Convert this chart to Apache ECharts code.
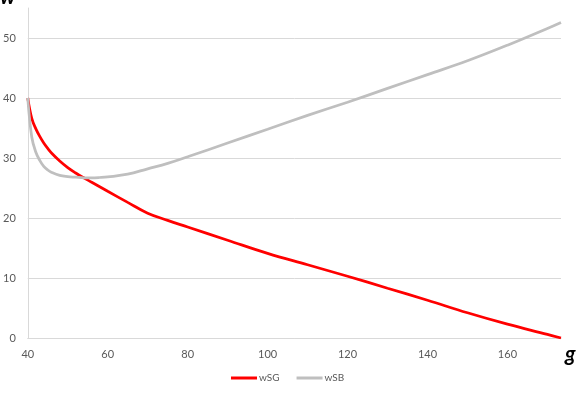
<!DOCTYPE html>
<html>
<head>
<meta charset="utf-8">
<script src="https://cdn.jsdelivr.net/npm/echarts@6/dist/echarts.min.js"></script>
<style>html,body{margin:0;padding:0;background:#fff}#c{width:585px;height:393px}</style>
</head>
<body>
<div id="c"></div>
<script>
var xValues = [40, 41, 42, 43, 44, 45, 46, 48, 50, 52, 54, 56, 58, 60, 65, 70, 75, 80, 90, 100, 110, 120, 130, 140, 150, 160, 170, 173.4];
var wSG = [40, 36.6, 34.9, 33.6, 32.5, 31.6, 30.8, 29.5, 28.4, 27.5, 26.7, 25.95, 25.2, 24.45, 22.6, 20.8, 19.6, 18.5, 16.3, 14.1, 12.2, 10.3, 8.3, 6.3, 4.2, 2.3, 0.6, 0];
var wSB = [40, 33.5, 31.0, 29.6, 28.6, 28.0, 27.6, 27.1, 26.9, 26.8, 26.7, 26.7, 26.75, 26.85, 27.3, 28.2, 29.1, 30.2, 32.5, 34.8, 37.1, 39.3, 41.6, 43.9, 46.2, 48.8, 51.6, 52.6];
var seriesNames = ['wSG', 'wSB'];
var xTicks = [40, 60, 80, 100, 120, 140, 160];
var yTicks = [0, 10, 20, 30, 40, 50];

function pairs(ys) { return xValues.map(function (x, i) { return [x, ys[i]]; }); }

var chart = echarts.init(document.getElementById('c'), null, { renderer: 'canvas' });
var font = 'Lato';
chart.setOption({
  animation: false,
  grid: { left: 27, right: 24, top: 8, bottom: 55, containLabel: false },
  xAxis: {
    type: 'value', min: 40, max: 173.4, interval: 20,
    axisLine: { show: true, lineStyle: { color: '#d9d9d9', width: 1 } },
    axisTick: { show: false },
    splitLine: { show: false },
    axisLabel: {
      color: '#595959', fontFamily: font, fontSize: 11, margin: 11,
      showMaxLabel: false,
      formatter: function (v) { return xTicks.indexOf(v) >= 0 ? String(v) : ''; }
    }
  },
  yAxis: {
    type: 'value', min: 0, max: 55, interval: 10,
    axisLine: { show: true, lineStyle: { color: '#d9d9d9', width: 1 } },
    axisTick: { show: false },
    splitLine: { show: true, showMaxLine: false, lineStyle: { color: '#d9d9d9', width: 1 } },
    axisLabel: {
      color: '#595959', fontFamily: font, fontSize: 11, margin: 12,
      showMaxLabel: false,
      formatter: function (v) { return yTicks.indexOf(v) >= 0 ? String(v) : ''; }
    }
  },
  legend: {
    bottom: 5, left: 226,
    icon: 'rect', itemWidth: 26, itemHeight: 3, itemGap: 17,
    textStyle: { color: '#595959', fontFamily: font, fontSize: 10, padding: [0, 0, 0, -3] },
    data: seriesNames
  },
  series: [
    { name: seriesNames[0], type: 'line', data: pairs(wSG), symbol: 'none', smooth: 0.4,
      lineStyle: { color: '#ff0000', width: 2.75 }, itemStyle: { color: '#ff0000' } },
    { name: seriesNames[1], type: 'line', data: pairs(wSB), symbol: 'none', smooth: 0.4,
      lineStyle: { color: '#bfbfbf', width: 2.75 }, itemStyle: { color: '#bfbfbf' } }
  ],
  graphic: [
    { type: 'text', left: 565, top: 344, style: { text: 'g', font: 'italic bold 21px Lato', fill: '#000' } },
    { type: 'text', left: 0, top: -13, style: { text: 'w', font: 'italic bold 21px Lato', fill: '#000' } }
  ]
});
</script>
</body>
</html>
